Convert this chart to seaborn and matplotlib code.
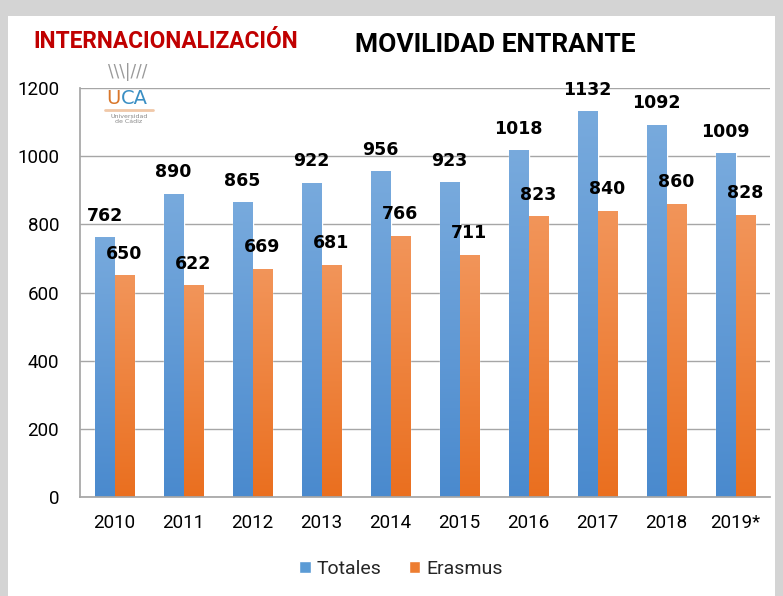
import numpy as np
import pandas as pd
import matplotlib
matplotlib.use("Agg")
import matplotlib.pyplot as plt
import seaborn as sns
from matplotlib import font_manager
from matplotlib.patches import Rectangle
from matplotlib.colors import LinearSegmentedColormap

years = ["2010", "2011", "2012", "2013", "2014", "2015", "2016", "2017", "2018", "2019*"]
totales = [762, 890, 865, 922, 956, 923, 1018, 1132, 1092, 1009]
erasmus = [650, 622, 669, 681, 766, 711, 823, 840, 860, 828]
series_names = ["Totales", "Erasmus"]
y_ticks = [0, 200, 400, 600, 800, 1000, 1200]

df = pd.DataFrame({
    "year": years * 2,
    "value": totales + erasmus,
    "serie": ["Totales"] * len(years) + ["Erasmus"] * len(years),
})

sns.set_theme(style="white")
names = {f.name for f in font_manager.fontManager.ttflist}
narrow = "Liberation Sans Narrow" if "Liberation Sans Narrow" in names else "Roboto"
plt.rcParams["font.family"] = [narrow, "DejaVu Sans"]

blue_grad = LinearSegmentedColormap.from_list("b", ["#4a8ace", "#78aadd"])
orange_grad = LinearSegmentedColormap.from_list("o", ["#ea6f1f", "#f2955a"])

fig = plt.figure(figsize=(7.83, 5.96), dpi=100)
fig.patch.set_facecolor("#d4d4d4")
# hoja blanca del grafico
fig.patches.append(Rectangle((8 / 783, 0), 767 / 783, 1 - 16 / 596,
                             transform=fig.transFigure, facecolor="white",
                             edgecolor="none", zorder=-5))

ax = fig.add_axes([80 / 783, 99 / 596, 690 / 783, 409 / 596])
ax.set_facecolor("none")
sns.barplot(data=df, x="year", y="value", hue="serie", hue_order=series_names,
            palette=["#5b9bd5", "#ed7d31"], width=0.57, ax=ax, legend=False,
            saturation=1)

ax.set_ylim(0, 1200)
ax.set_yticks(y_ticks)
ax.set_xlim(-0.5, len(years) - 0.5)
ax.set_xlabel("")
ax.set_ylabel("")
ax.grid(axis="y", color="#a6a6a6", linewidth=1)
ax.set_axisbelow(True)
for s in ["top", "right"]:
    ax.spines[s].set_visible(False)
ax.spines["left"].set_color("#a6a6a6")
ax.spines["bottom"].set_color("#a6a6a6")
ax.tick_params(axis="both", length=0, labelsize=13.5, colors="black")
ax.tick_params(axis="y", pad=15)
ax.tick_params(axis="x", pad=12)

# relleno degradado + etiquetas
grad = np.linspace(0, 1, 256).reshape(-1, 1)
for container, cmap in zip(ax.containers, [blue_grad, orange_grad]):
    for bar, val in zip(container, container.datavalues):
        x0, w, h = bar.get_x(), bar.get_width(), bar.get_height()
        im = ax.imshow(grad, cmap=cmap, origin="lower", aspect="auto",
                       extent=(x0, x0 + w, 0, h), zorder=2)
        im.set_clip_path(bar)
        ax.annotate(f"{int(val)}", (x0 + w / 2, h), xytext=(0, 9),
                    textcoords="offset points", ha="center", va="bottom",
                    fontsize=12.5, fontweight="bold", color="black",
                    family="DejaVu Sans")
ax.set_xlim(-0.5, len(years) - 0.5)
ax.set_ylim(0, 1200)

# leyenda
handles = [Rectangle((0, 0), 1, 1, facecolor=c) for c in ["#5b9bd5", "#ed7d31"]]
fig.legend(handles, series_names, loc="center", bbox_to_anchor=(401 / 783, 1 - 569 / 596),
           ncol=2, frameon=False, fontsize=14, handlelength=0.6, handleheight=0.6,
           handletextpad=0.3, columnspacing=1.4)

# titulos
fig.text(495 / 783, 1 - 45 / 596, "MOVILIDAD ENTRANTE", ha="center", va="center",
         fontsize=19, fontweight="bold", color="black")
fig.text(33 / 783, 1 - 42 / 596, "INTERNACIONALIZACIÓN", ha="left", va="center",
         fontsize=16.3, fontweight="bold", color="#c00000")

# logo UCA (version texto)
fig.text(106 / 783, 1 - 98 / 596, "U", ha="left", va="center", fontsize=14,
         color="#d9772b", family="DejaVu Sans")
fig.text(148 / 783, 1 - 98 / 596, "CA", ha="right", va="center", fontsize=14,
         color="#3a8fc4", family="DejaVu Sans")
fig.add_artist(plt.Line2D([105 / 783, 153 / 783], [1 - 110 / 596, 1 - 110 / 596],
                          color="#f0c8a8", linewidth=2, transform=fig.transFigure))
fig.text(129 / 783, 1 - 119 / 596, "Universidad\nde Cádiz", ha="center", va="center",
         fontsize=4.5, color="#888888", linespacing=1.0, family="DejaVu Sans")
fig.text(128 / 783, 1 - 72 / 596, "\\\\\\|///", ha="center", va="center",
         fontsize=12, color="#9a9a9a", family="DejaVu Sans")

fig.savefig("out.png", dpi=100, facecolor=fig.get_facecolor())
